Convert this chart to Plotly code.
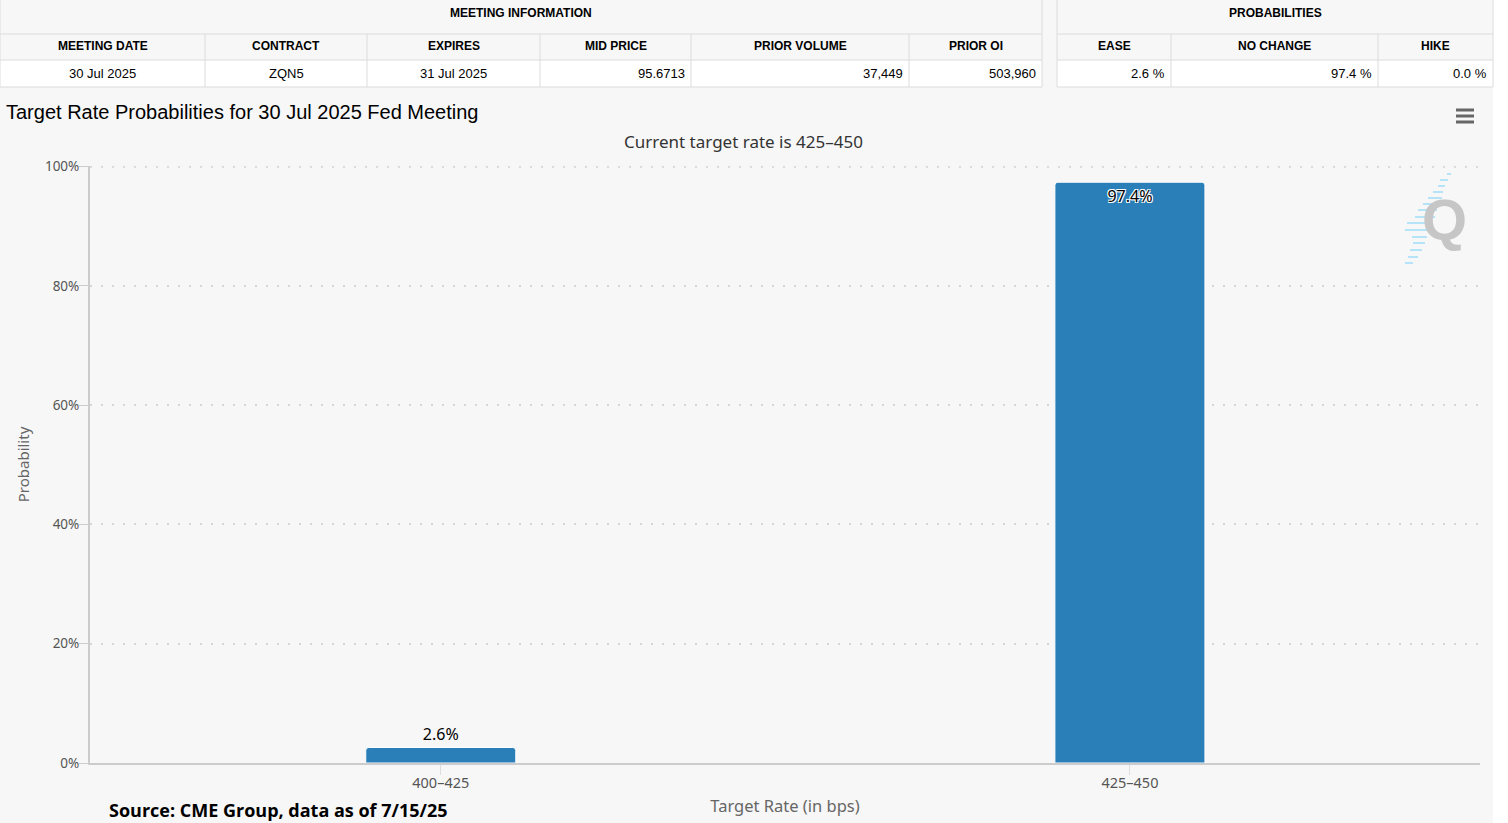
import plotly.graph_objects as go

# ---------------- data ----------------
categories = ["400–425", "425–450"]
probabilities = [2.6, 97.4]
y_ticks = [0, 20, 40, 60, 80, 100]
y_tick_labels = [f"{v}%" for v in y_ticks]

meeting_headers = ["MEETING DATE", "CONTRACT", "EXPIRES", "MID PRICE", "PRIOR VOLUME", "PRIOR OI"]
meeting_values = ["30 Jul 2025", "ZQN5", "31 Jul 2025", "95.6713", "37,449", "503,960"]
prob_headers = ["EASE", "NO CHANGE", "HIKE"]
prob_values = ["2.6 %", "97.4 %", "0.0 %"]

title_text = "Target Rate Probabilities for 30 Jul 2025 Fed Meeting"
subtitle_text = "Current target rate is 425–450"
source_text = "Source: CME Group, data as of 7/15/25"

# ---------------- layout geometry (pixels) ----------------
W, H = 1508, 823
PL, PR, PT, PB = 90, 1480, 166, 763

def px(x):
    return (x - PL) / (PR - PL)

def py(y):
    return (PB - y) / (PB - PT)

BG = "#f7f7f7"
BORDER = "#dcdcdc"
GRID = "#d6d6d6"
GRID_DASH = "2px,9px"
AXIS_FONT = "Noto Sans"
TABLE_FONT = "Liberation Sans"

left_cols = [0, 205, 367, 540, 691, 909, 1042]
right_cols = [1057, 1171, 1378, 1493]
left_align = ["center", "center", "center", "right", "right", "right"]
right_align = ["right", "right", "right"]
row_lines = [34, 60, 87]

shapes = []
annotations = []

def rect(x0, y0, x1, y1, fill):
    shapes.append(dict(type="rect", xref="paper", yref="paper",
                       x0=px(x0), x1=px(x1), y0=py(y0), y1=py(y1),
                       fillcolor=fill, line=dict(width=0), layer="above"))

def hline(x0, x1, y, color=BORDER, width=1):
    shapes.append(dict(type="line", xref="paper", yref="paper",
                       x0=px(x0), x1=px(x1), y0=py(y), y1=py(y),
                       line=dict(color=color, width=width), layer="above"))

def vline(x, y0, y1, color=BORDER, width=1):
    shapes.append(dict(type="line", xref="paper", yref="paper",
                       x0=px(x), x1=px(x), y0=py(y0), y1=py(y1),
                       line=dict(color=color, width=width), layer="above"))

def text(x, y, s, size, color="#000", bold=False, anchor="center", family=TABLE_FONT):
    annotations.append(dict(xref="paper", yref="paper", x=px(x), y=py(y),
                            text=f"<b>{s}</b>" if bold else s, showarrow=False,
                            xanchor=anchor, yanchor="middle",
                            font=dict(family=family, size=size, color=color)))

# white strip on the right
rect(1493, 0, 1508, 823, "#ffffff")

# tables
def draw_table(cols, headers, values, aligns, group_title):
    x0, x1 = cols[0], cols[-1]
    rect(x0, 60, x1, 87, "#ffffff")
    for y in row_lines:
        hline(x0, x1, y)
    vline(x0, 0, 87)
    vline(x1, 0, 87)
    for c in cols[1:-1]:
        vline(c, 34, 87)
    text((x0 + x1) / 2, 13, group_title, 12, bold=True)
    for i, (h, v, a) in enumerate(zip(headers, values, aligns)):
        ca, cb = cols[i], cols[i + 1]
        text((ca + cb) / 2, 46, h, 12, bold=True)
        if a == "center":
            text((ca + cb) / 2, 73, v, 13)
        else:
            text(cb - 4, 73, v, 13, anchor="right")

draw_table(left_cols, meeting_headers, meeting_values, left_align, "MEETING INFORMATION")
draw_table(right_cols, prob_headers, prob_values, right_align, "PROBABILITIES")

# subtitle
text(743, 141, subtitle_text, 17, color="#333333", family=AXIS_FONT)

# source
annotations.append(dict(xref="paper", yref="paper", x=px(107), y=py(810),
                        text=f"<b>{source_text}</b>", showarrow=False,
                        xanchor="left", yanchor="middle",
                        font=dict(family="Open Sans", size=18, color="#000")))

# top gridline (plotly hides a gridline lying on the plot edge)
shapes.append(dict(type="line", xref="paper", yref="y", x0=0, x1=1,
                   y0=y_ticks[-1], y1=y_ticks[-1],
                   line=dict(color=GRID, width=2, dash=GRID_DASH), layer="below"))

# hamburger menu icon
for yy in (110, 116, 122):
    shapes.append(dict(type="line", xref="paper", yref="paper",
                       x0=px(1456), x1=px(1474), y0=py(yy), y1=py(yy),
                       line=dict(color="#666666", width=3), layer="above"))

# Q watermark
dashes = [(1447, 1451, 174), (1440, 1448, 180), (1438, 1445, 186), (1433, 1443, 192),
          (1428, 1442, 198), (1423, 1438, 204), (1418, 1437, 210), (1415, 1435, 217),
          (1407, 1430, 223), (1405, 1427, 230), (1412, 1427, 237), (1413, 1425, 243),
          (1410, 1422, 250), (1408, 1418, 257), (1405, 1413, 263)]
for a, b, yy in dashes:
    shapes.append(dict(type="line", xref="paper", yref="paper",
                       x0=px(a), x1=px(b), y0=py(yy), y1=py(yy),
                       line=dict(color="#b5e3f8", width=2), layer="above"))
text(1444, 220, "Q", 58, color="#c6c6c6", bold=True, family="Liberation Sans")

# ---------------- figure ----------------
fig = go.Figure()
fig.add_trace(go.Bar(
    x=categories, y=probabilities,
    width=0.2177,
    marker=dict(color="#2a7fb8", line=dict(color="#ffffff", width=1), cornerradius=3),
    texttemplate="%{y:.1f}%",
    textposition=["outside", "inside"],
    insidetextanchor="end",
    textangle=0,
    outsidetextfont=dict(family=AXIS_FONT, size=16, color="#000000"),
    insidetextfont=dict(family=AXIS_FONT, size=16, color="#000000",
                        shadow="-1px -1px 0 #fff, 1px -1px 0 #fff, -1px 1px 0 #fff, 1px 1px 0 #fff"),
    cliponaxis=False,
    hoverinfo="skip",
))

fig.update_layout(
    width=W, height=H,
    margin=dict(l=PL, r=W - PR, t=PT, b=H - PB, pad=0, autoexpand=False),
    paper_bgcolor=BG, plot_bgcolor=BG,
    showlegend=False,
    title=dict(text=title_text, x=6 / W, xref="container", xanchor="left",
               y=1 - 112 / H, yref="container", yanchor="middle",
               font=dict(family=TABLE_FONT, size=20, color="#000000")),
    xaxis=dict(
        automargin=False,
        range=[-0.509, 1.508],
        showline=True, linecolor="#cccccc", linewidth=2,
        ticks="outside", ticklen=10, tickcolor="#dddddd", tickwidth=1,
        ticklabelstandoff=-4,
        tickfont=dict(family=AXIS_FONT, size=14.5, color="#555555"),
        title=dict(text="Target Rate (in bps)", standoff=9,
                   font=dict(family=AXIS_FONT, size=16.5, color="#666666")),
        showgrid=False, zeroline=False, fixedrange=True,
    ),
    yaxis=dict(
        automargin=False,
        range=[0, 100.12], tickmode="array", tickvals=y_ticks, ticktext=y_tick_labels,
        showline=True, linecolor="#cccccc", linewidth=2,
        ticks="outside", ticklen=9, tickcolor="#cccccc", tickwidth=1,
        ticklabelstandoff=-3,
        tickfont=dict(family=AXIS_FONT, size=13.5, color="#555555"),
        showgrid=True, gridcolor=GRID, gridwidth=2, griddash=GRID_DASH,
        zeroline=False, fixedrange=True,
        title=dict(text="Probability", standoff=12,
                   font=dict(family=AXIS_FONT, size=15, color="#666666")),
    ),
    shapes=shapes,
    annotations=annotations,
)

fig.write_html("out.html", config={"displayModeBar": False})
